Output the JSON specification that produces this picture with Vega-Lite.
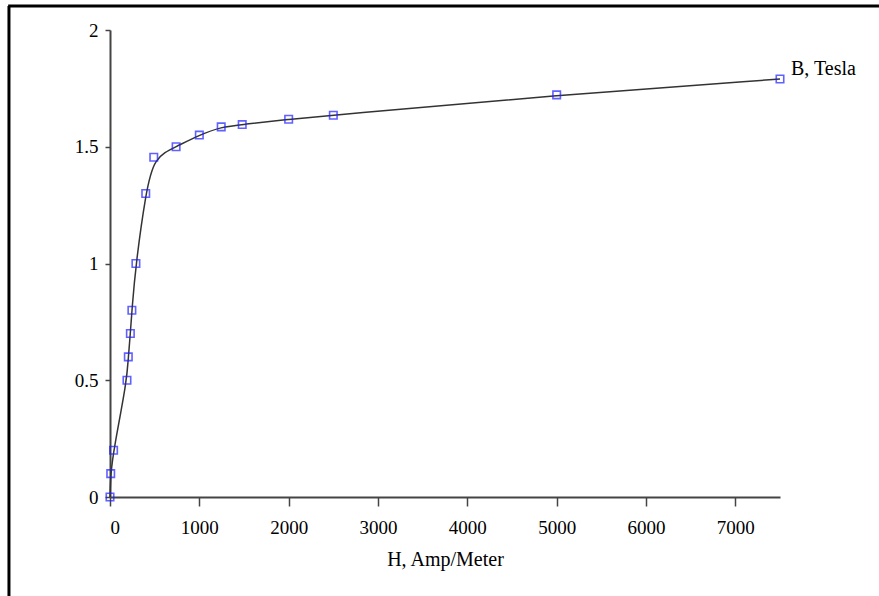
{
  "$schema": "https://vega.github.io/schema/vega-lite/v6.json",
  "width": 670,
  "height": 467,
  "autosize": {"type": "none"},
  "padding": {"left": 110, "top": 30, "right": 99, "bottom": 99},
  "background": "white",
  "config": {
    "view": {"stroke": null},
    "font": "Liberation Serif",
    "axis": {
      "grid": false,
      "labelFont": "Liberation Serif",
      "titleFont": "Liberation Serif",
      "labelColor": "black",
      "titleColor": "black",
      "domainColor": "#444",
      "domainWidth": 2,
      "tickColor": "#444",
      "tickWidth": 1.5
    }
  },
  "datasets": {
    "bh": [
      {"H": 0, "B": 0},
      {"H": 8, "B": 0.1},
      {"H": 40, "B": 0.2},
      {"H": 190, "B": 0.5},
      {"H": 205, "B": 0.6},
      {"H": 228, "B": 0.7},
      {"H": 245, "B": 0.8},
      {"H": 290, "B": 1.0},
      {"H": 400, "B": 1.3},
      {"H": 490, "B": 1.455},
      {"H": 740, "B": 1.5},
      {"H": 1000, "B": 1.55},
      {"H": 1245, "B": 1.585},
      {"H": 1480, "B": 1.595},
      {"H": 2000, "B": 1.618},
      {"H": 2500, "B": 1.635},
      {"H": 5000, "B": 1.722},
      {"H": 7500, "B": 1.79}
    ]
  },
  "layer": [
    {
      "data": {"values": [{"side": "frame"}]},
      "mark": {"type": "rule", "color": "black", "strokeWidth": 3, "clip": false},
      "encoding": {
        "x": {"datum": -1131, "type": "quantitative", "scale": {"domain": [0, 7500], "nice": false}},
        "y": {"datum": 2.103, "type": "quantitative", "scale": {"domain": [0, 2], "nice": false}},
        "y2": {"datum": -0.45}
      }
    },
    {
      "data": {"values": [{"side": "frame"}]},
      "mark": {"type": "rule", "color": "black", "strokeWidth": 3, "clip": false},
      "encoding": {
        "x": {"datum": -1140, "type": "quantitative"},
        "x2": {"datum": 8700},
        "y": {"datum": 2.103, "type": "quantitative"}
      }
    },
    {
      "data": {"name": "bh"},
      "mark": {"type": "line", "color": "#333333", "strokeWidth": 1.5, "interpolate": "basis"},
      "encoding": {
        "x": {
          "field": "H", "type": "quantitative",
          "scale": {"domain": [0, 7500], "nice": false},
          "axis": {
            "values": [0, 1000, 2000, 3000, 4000, 5000, 6000, 7000],
            "format": "d",
            "labelFontSize": 19,
            "tickSize": 9,
            "labelPadding": 12,
            "title": "H, Amp/Meter",
            "titleFontSize": 20,
            "titleFontWeight": "normal",
            "titlePadding": 12
          }
        },
        "y": {
          "field": "B", "type": "quantitative",
          "scale": {"domain": [0, 2], "nice": false},
          "axis": {
            "values": [0, 0.5, 1, 1.5, 2],
            "format": "~g",
            "labelFontSize": 19,
            "tickSize": 5,
            "labelPadding": 7,
            "title": null
          }
        }
      }
    },
    {
      "data": {"name": "bh"},
      "mark": {"type": "point", "shape": "square", "filled": false, "color": "#1f1fff", "size": 56, "strokeWidth": 1.6},
      "encoding": {
        "x": {"field": "H", "type": "quantitative"},
        "y": {"field": "B", "type": "quantitative"}
      }
    },
    {
      "data": {"values": [{"H": 7500, "B": 1.79, "series": "B, Tesla"}]},
      "mark": {"type": "text", "align": "left", "baseline": "alphabetic", "dx": 11, "dy": -4, "fontSize": 20, "font": "Liberation Serif", "color": "black"},
      "encoding": {
        "x": {"field": "H", "type": "quantitative"},
        "y": {"field": "B", "type": "quantitative"},
        "text": {"field": "series"}
      }
    }
  ]
}
